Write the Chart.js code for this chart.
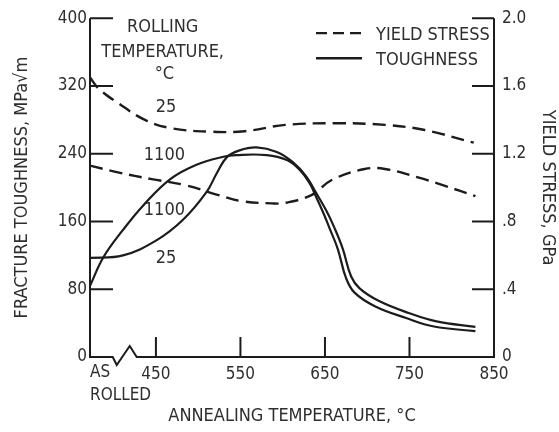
<!DOCTYPE html>
<html><head><meta charset="utf-8">
<script src="https://cdn.jsdelivr.net/npm/chart.js@4/dist/chart.umd.min.js"></script>
<style>html,body{margin:0;padding:0;background:#fff}</style>
</head><body>
<canvas id="c" width="559" height="432"></canvas>
<script>
// ---- data ----
const xTickValues = [450, 550, 650, 750, 850];
const leftTickValues = [0, 80, 160, 240, 320, 400];
const rightTickValues = [0, 0.4, 0.8, 1.2, 1.6, 2.0];
const rightTickLabels = ['0', '.4', '.8', '1.2', '1.6', '2.0'];
const xStartLabel = ['AS', 'ROLLED'];

// Yield stress (GPa), rolling temperature 25 C
const yield25X = [372, 382, 405, 437, 469, 516, 555, 603, 666, 721, 768, 826];
const yield25Y = [1.65, 1.585, 1.50, 1.40, 1.35, 1.33, 1.333, 1.37, 1.38, 1.37, 1.34, 1.265];
// Yield stress (GPa), rolling temperature 1100 C
const yield1100X = [372, 405, 445, 484, 524, 551, 587, 603, 634, 658, 697, 721, 760, 792, 828];
const yield1100Y = [1.13, 1.09, 1.05, 1.015, 0.956, 0.92, 0.907, 0.91, 0.956, 1.045, 1.11, 1.11, 1.06, 1.01, 0.95];
// Fracture toughness (MPa sqrt m), rolling temperature 25 C
const tough25X = [372, 411, 451, 482, 510, 522, 534, 549, 569, 593, 612, 628, 640, 652, 661, 671, 681, 691, 714, 749, 782, 828];
const tough25Y = [117, 120, 138, 162, 195, 217, 236, 244, 247.4, 242, 230, 213, 193, 172, 153, 128, 95, 81, 66, 52, 42, 35.5];
// Fracture toughness, rolling temperature 1100 C
const tough1100X = [372, 388, 411, 435, 467, 498, 530, 545, 581, 605, 620, 632, 640, 649, 655, 665, 675, 685, 709, 746, 779, 828];
const tough1100Y = [84, 118, 150, 179, 210, 227, 236.4, 238.4, 238.4, 232.5, 221, 205, 188, 168, 153, 128, 93, 76, 60, 46, 36, 30.5];

// text annotations
const annoTexts = ['ROLLING', 'TEMPERATURE,', '°C', '25', '1100', '1100', '25'];
const annoX = [458, 458, 460, 462, 460, 460, 462];
const annoY = [389, 360, 334, 295, 238, 173, 117];
const legendLabels = ['YIELD STRESS', 'TOUGHNESS'];

// ---- style ----
const INK = '#1c1c1c';
const TXT = '#2e2e2e';
const FONT = "'DejaVu Sans Condensed', 'Liberation Sans Narrow', sans-serif";
const BREAK_AT = 419;
Chart.defaults.font.family = FONT;
Chart.defaults.font.size = 18;
Chart.defaults.color = TXT;

const pts = (xs, ys) => xs.map((v, i) => ({x: v, y: ys[i]}));
const lineDs = (data, axis, dash) => ({
  data, yAxisID: axis, borderColor: INK, borderWidth: dash ? 2.4 : 2.2,
  borderDash: dash || [], pointRadius: 0, fill: false, tension: 0.4
});

const decor = {
  id: 'decor',
  afterDraw(chart) {
    const {ctx, chartArea: {left, right, top, bottom}, scales: {x, y, y2}} = chart;
    ctx.save();
    ctx.strokeStyle = INK; ctx.lineWidth = 2; ctx.lineCap = 'butt';
    ctx.beginPath();
    ctx.moveTo(left, top); ctx.lineTo(left, bottom);
    const bx = x.getPixelForValue(BREAK_AT);
    ctx.lineTo(bx - 17, bottom); ctx.lineTo(bx - 13, bottom + 8);
    ctx.lineTo(bx, bottom - 11); ctx.lineTo(bx + 7, bottom);
    ctx.lineTo(right, bottom); ctx.lineTo(right, top);
    ctx.stroke();
    // inward ticks
    ctx.beginPath();
    y.ticks.forEach(t => { if (t.value === 0) return; const p = y.getPixelForValue(t.value); ctx.moveTo(left, p); ctx.lineTo(left + 23, p); });
    y2.ticks.forEach(t => { if (t.value === 0) return; const p = y2.getPixelForValue(t.value); ctx.moveTo(right, p); ctx.lineTo(right - 22, p); });
    x.ticks.forEach(t => { if (t.value >= x.max) return; const p = x.getPixelForValue(t.value); ctx.moveTo(p, bottom); ctx.lineTo(p, bottom - 20); });
    ctx.stroke();
    // AS ROLLED label
    ctx.fillStyle = TXT; ctx.font = '17px ' + FONT;
    ctx.textAlign = 'left'; ctx.textBaseline = 'middle';
    ctx.fillText(xStartLabel[0], left, bottom + 16);
    ctx.fillText(xStartLabel[1], left, bottom + 39);
    // annotations
    ctx.font = '18px ' + FONT;
    ctx.textAlign = 'center';
    annoTexts.forEach((t, i) => ctx.fillText(t, x.getPixelForValue(annoX[i]), y.getPixelForValue(annoY[i])));
    // legend
    ctx.textAlign = 'left';
    ctx.lineWidth = 2.2;
    ctx.setLineDash([11, 6]);
    ctx.beginPath(); ctx.moveTo(right - 178, top + 15); ctx.lineTo(right - 132, top + 15); ctx.stroke();
    ctx.setLineDash([]);
    ctx.lineWidth = 2.4;
    ctx.beginPath(); ctx.moveTo(right - 178, top + 40); ctx.lineTo(right - 132, top + 40); ctx.stroke();
    ctx.fillText(legendLabels[0], right - 118, top + 17);
    ctx.fillText(legendLabels[1], right - 118, top + 42);
    ctx.restore();
  }
};

new Chart(document.getElementById('c'), {
  type: 'line',
  data: {
    datasets: [
      lineDs(pts(yield25X, yield25Y), 'y2', [13, 7]),
      lineDs(pts(yield1100X, yield1100Y), 'y2', [13, 7]),
      lineDs(pts(tough25X, tough25Y), 'y'),
      lineDs(pts(tough1100X, tough1100Y), 'y')
    ]
  },
  options: {
    responsive: false, animation: false,
    layout: {padding: {top: 18, left: 0, right: 0, bottom: 0}},
    plugins: {legend: {display: false}, tooltip: {enabled: false}},
    scales: {
      x: {
        type: 'linear', min: 372, max: 850,
        afterBuildTicks: s => { s.ticks = xTickValues.map(v => ({value: v})); },
        afterFit: s => { s.height = 75; },
        grid: {display: false, drawTicks: false}, border: {display: false},
        ticks: {padding: 7, maxRotation: 0, autoSkip: false, color: TXT, font: {size: 17}},
        title: {display: true, text: 'ANNEALING TEMPERATURE, °C', padding: {top: 0, bottom: 5}, color: TXT}
      },
      y: {
        position: 'left', min: 0, max: 400,
        afterBuildTicks: s => { s.ticks = leftTickValues.map(v => ({value: v})); },
        afterFit: s => { s.width = 90; },
        grid: {display: false, drawTicks: false}, border: {display: false},
        ticks: {padding: 3, color: TXT, font: {size: 17}},
        title: {display: true, text: 'FRACTURE TOUGHNESS, MPa√m', padding: {top: 12, bottom: 0}, color: TXT}
      },
      y2: {
        position: 'right', min: 0, max: 2,
        afterBuildTicks: s => { s.ticks = rightTickValues.map(v => ({value: v})); },
        afterFit: s => { s.width = 65; },
        grid: {display: false, drawTicks: false}, border: {display: false},
        ticks: {padding: 8, color: TXT, font: {size: 17}, callback: (v, i) => rightTickLabels[i]},
        title: {display: true, text: 'YIELD STRESS, GPa', padding: {top: 1, bottom: 0}, color: TXT}
      }
    }
  },
  plugins: [decor]
});
</script>
</body></html>
